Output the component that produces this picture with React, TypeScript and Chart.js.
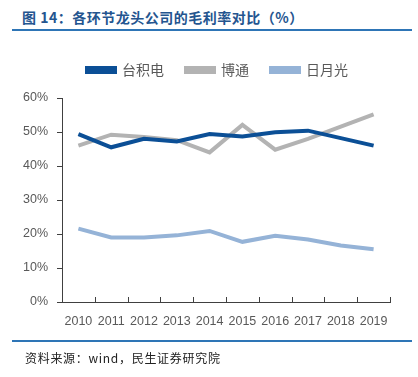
import React, { useEffect, useRef } from "react";
import { Chart, registerables } from "chart.js";

Chart.register(...registerables);

const years = ["2010", "2011", "2012", "2013", "2014", "2015", "2016", "2017", "2018", "2019"];
const tsmc = [49.4, 45.5, 48.0, 47.2, 49.4, 48.7, 49.9, 50.4, 48.2, 46.0];
const broadcom = [46.0, 49.2, 48.5, 47.6, 44.0, 52.1, 44.8, 48.0, 51.6, 55.2];
const ase = [21.6, 19.0, 19.0, 19.6, 20.9, 17.7, 19.5, 18.4, 16.6, 15.5];
const seriesNames = ["台积电", "博通", "日月光"];
const yMin = 0;
const yMax = 60;
const yStep = 10;

const title = "图 14：各环节龙头公司的毛利率对比（%）";
const source = "资料来源：wind，民生证券研究院";

const xTicksPlugin = {
  id: "xInnerTicks",
  beforeInit(chart: any) {
    const legend = chart.legend;
    if (legend) {
      const origFit = legend.fit;
      legend.fit = function () {
        origFit.call(this);
        this.height += 11;
      };
    }
  },
  afterLayout(chart: any) {
    const legend = chart.legend;
    if (legend) {
      legend.left += 22.5;
      legend.right += 22.5;
    }
  },
  afterDraw(chart: any) {
    const x = chart.scales.x;
    const ctx = chart.ctx;
    const n = x.ticks.length;
    ctx.save();
    ctx.strokeStyle = "#404040";
    ctx.lineWidth = 1;
    for (let i = 0; i <= n; i++) {
      const px = Math.round(x.left + (i * x.width) / n) + 0.5;
      ctx.beginPath();
      ctx.moveTo(px, x.top);
      ctx.lineTo(px, x.top - 5);
      ctx.stroke();
    }
    ctx.restore();
  },
};

export default function App() {
  const ref = useRef<HTMLCanvasElement>(null);
  useEffect(() => {
    if (!ref.current) return;
    const mk = (label: string, data: number[], color: string, w: number) => ({
      label,
      data,
      borderColor: color,
      backgroundColor: color,
      borderWidth: w,
      pointRadius: 0,
      tension: 0,
    });
    const chart = new Chart(ref.current, {
      type: "line",
      data: {
        labels: years,
        datasets: [
          mk(seriesNames[0], tsmc, "#0B4F96", 4),
          mk(seriesNames[1], broadcom, "#B3B3B3", 4),
          mk(seriesNames[2], ase, "#95B3D7", 4),
        ],
      },
      options: {
        animation: false,
        responsive: false,
        layout: { padding: { left: 0, right: 28, top: 0, bottom: 0 } },
        plugins: {
          legend: {
            position: "top",
            labels: {
              boxWidth: 28,
              boxHeight: 4,
              padding: 22,
              color: "#595959",
              font: { family: "'Noto Sans CJK SC', sans-serif", size: 14 },
            },
          },
          tooltip: { enabled: false },
        },
        scales: {
          x: {
            offset: true,
            grid: { display: false, drawOnChartArea: false, drawTicks: false, offset: true },
            border: { display: true, color: "#404040", width: 1 },
            ticks: {
              color: "#595959",
              padding: 12,
              maxRotation: 0,
              font: { family: "'Liberation Sans', Arial, sans-serif", size: 12.5 },
            },
          },
          y: {
            min: yMin,
            max: yMax,
            afterFit: (s: any) => {
              s.width = 62;
            },
            grid: { drawOnChartArea: false, drawTicks: true, tickLength: 5, color: "#404040" },
            border: { display: true, color: "#404040", width: 1 },
            ticks: {
              stepSize: yStep,
              padding: 9,
              color: "#595959",
              font: { family: "'Liberation Sans', Arial, sans-serif", size: 12.5 },
              callback: (v: any) => v + "%",
            },
          },
        },
      },
      plugins: [xTicksPlugin],
    });
    return () => chart.destroy();
  }, []);

  return (
    <div style={{ position: "fixed", left: 0, top: 0, width: 418, height: 377, background: "#fff" }}>
      <div
        style={{
          position: "absolute",
          left: 22,
          top: 8,
          fontFamily: "'Noto Sans CJK SC', sans-serif",
          fontWeight: 700,
          fontSize: 14,
          lineHeight: "18px",
          letterSpacing: "0.5px",
          color: "#24558F",
          whiteSpace: "nowrap",
        }}
      >
        {title}
      </div>
      <div style={{ position: "absolute", left: 12, top: 29, width: 400, height: 2, background: "#2E75B6" }} />
      <canvas ref={ref} width={418} height={300} style={{ position: "absolute", left: 0, top: 41, width: 418, height: 300 }} />
      <div style={{ position: "absolute", left: 12, top: 340, width: 400, height: 2, background: "#2E75B6" }} />
      <div
        style={{
          position: "absolute",
          left: 25,
          top: 350,
          fontFamily: "'Noto Sans CJK SC', sans-serif",
          fontSize: 12,
          lineHeight: "16px",
          letterSpacing: "0.7px",
          color: "#222",
          whiteSpace: "nowrap",
        }}
      >
        {source}
      </div>
    </div>
  );
}
